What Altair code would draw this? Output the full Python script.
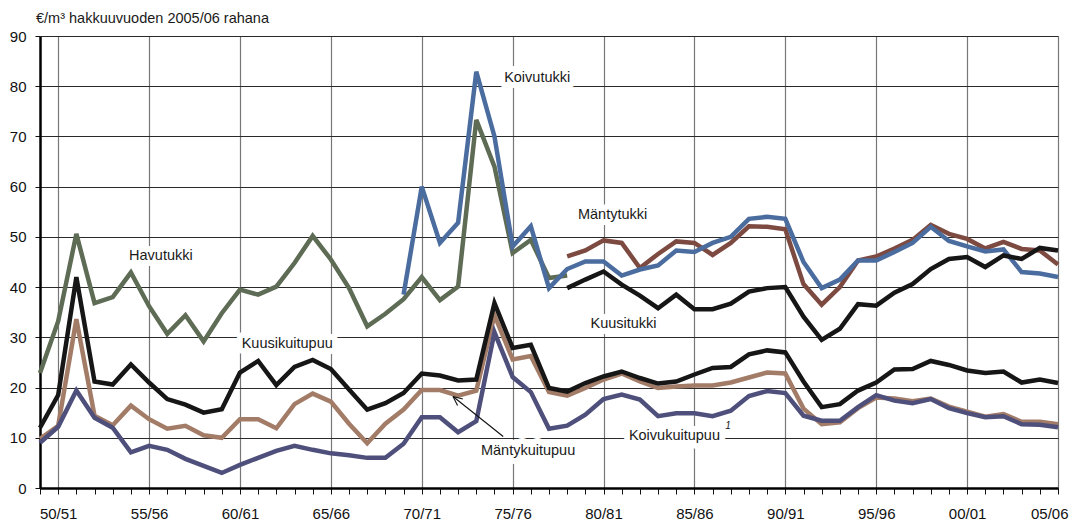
import altair as alt
import pandas as pd

# ---------------- data ----------------
first_year = 1949          # 49/50
last_year = 2005           # 05/06

havutukki_start = 1949
havutukki = [22.9, 33.2, 50.6, 36.8, 38.0, 42.9, 36.2, 30.7, 34.4, 29.2,
             34.8, 39.5, 38.5, 40.1, 44.8, 50.2, 45.5, 39.8, 32.2, 34.7,
             37.6, 42.0, 37.4, 40.1, 73.3, 64.0, 46.8, 49.4, 41.8, 42.3]

koivutukki_start = 1969
koivutukki = [38.5, 60.0, 48.8, 52.8, 82.9, 70.0, 48.1, 52.1, 39.8, 43.6,
              45.1, 45.1, 42.3, 43.5, 44.3, 47.3, 47.0, 48.8, 50.0, 53.6,
              54.0, 53.6, 45.0, 39.8, 41.5, 45.3, 45.3, 47.0, 48.8, 52.0,
              49.2, 48.1, 47.1, 47.5, 43.0, 42.7, 42.0]

mantytukki_start = 1978
mantytukki = [46.1, 47.3, 49.3, 48.8, 43.8, 46.6, 49.1, 48.8, 46.4, 48.8,
              52.1, 52.0, 51.5, 40.6, 36.5, 40.0, 45.3, 46.1, 47.7, 49.4,
              52.4, 50.6, 49.6, 47.7, 49.0, 47.6, 47.3, 44.5]

kuusitukki_start = 1978
kuusitukki = [39.8, 41.5, 43.1, 40.5, 38.3, 35.8, 38.5, 35.6, 35.6, 36.7,
              39.1, 39.8, 40.0, 34.1, 29.5, 31.7, 36.6, 36.3, 38.9, 40.6,
              43.6, 45.6, 46.0, 44.0, 46.3, 45.6, 47.8, 47.3]

kuusikuitupuu_start = 1949
kuusikuitupuu = [12.0, 18.5, 42.0, 21.2, 20.6, 24.6, 21.0, 17.7, 16.6, 15.0,
                 15.7, 23.0, 25.3, 20.5, 24.1, 25.5, 23.7, 19.6, 15.6, 16.9,
                 18.9, 22.8, 22.4, 21.4, 21.6, 36.8, 27.9, 28.5, 19.9, 19.2,
                 20.9, 22.2, 23.2, 21.9, 20.8, 21.2, 22.6, 23.9, 24.1, 26.6,
                 27.4, 27.0, 21.2, 16.1, 16.7, 19.4, 21.0, 23.6, 23.7, 25.3,
                 24.5, 23.4, 22.9, 23.2, 21.0, 21.6, 20.9]

mantykuitupuu_start = 1949
mantykuitupuu = [9.8, 12.4, 33.6, 14.4, 12.5, 16.4, 13.7, 11.8, 12.4, 10.5,
                 10.0, 13.7, 13.7, 11.9, 16.7, 18.8, 17.2, 12.8, 8.9, 12.8,
                 15.6, 19.5, 19.5, 18.4, 19.4, 34.4, 25.6, 26.3, 19.1, 18.4,
                 19.9, 21.6, 22.8, 21.2, 19.9, 20.2, 20.4, 20.4, 21.0, 22.0,
                 23.0, 22.8, 15.8, 12.7, 13.1, 15.9, 18.0, 17.8, 17.3, 17.8,
                 16.2, 15.2, 14.2, 14.7, 13.2, 13.2, 12.7]

koivukuitupuu_start = 1949
koivukuitupuu = [9.0, 12.2, 19.4, 14.0, 12.0, 7.1, 8.4, 7.6, 5.8, 4.4,
                 3.0, 4.6, 6.0, 7.4, 8.4, 7.6, 6.9, 6.5, 6.0, 6.0,
                 8.8, 14.1, 14.1, 11.1, 13.3, 31.0, 22.1, 19.1, 11.8, 12.4,
                 14.6, 17.7, 18.6, 17.6, 14.3, 14.9, 14.9, 14.3, 15.4, 18.3,
                 19.3, 18.9, 14.4, 13.4, 13.4, 16.1, 18.5, 17.4, 16.9, 17.7,
                 15.9, 14.9, 14.1, 14.3, 12.7, 12.6, 12.1]

# drawing order (first = bottom)
series = [
    ("Havutukki", havutukki_start, havutukki, "#5e6b55"),
    ("Mäntytukki", mantytukki_start, mantytukki, "#7d4a41"),
    ("Koivutukki", koivutukki_start, koivutukki, "#4a6c9e"),
    ("Kuusitukki", kuusitukki_start, kuusitukki, "#161616"),
    ("Mäntykuitupuu", mantykuitupuu_start, mantykuitupuu, "#a37c68"),
    ("Koivukuitupuu", koivukuitupuu_start, koivukuitupuu, "#4f4f7c"),
    ("Kuusikuitupuu", kuusikuitupuu_start, kuusikuitupuu, "#161616"),
]

# annotation labels (data coordinates)
label_text = ["Havutukki", "Kuusikuitupuu", "Koivutukki", "Mäntytukki",
              "Kuusitukki", "Mäntykuitupuu", "Koivukuitupuu"]
label_x = [1955.65, 1962.6, 1976.35, 1980.5, 1981.1, 1975.85, 1983.9]
label_y = [46.1, 28.6, 81.7, 54.4, 32.7, 7.3, 10.4]

sup_text = ["1"]
sup_x = [1986.85]
sup_y = [12.3]

arrow_x = [1974.48, 1971.72, 1971.72]
arrow_y = [10.25, 18.21, 18.21]
arrow_x2 = [1971.72, 1971.97, 1972.26]
arrow_y2 = [18.21, 16.42, 17.73]

title_text = "€/m³ hakkuuvuoden 2005/06 rahana"
y_ticks = list(range(0, 91, 10))
x_ticks = list(range(first_year, last_year + 1))

FONT = "Liberation Sans"

# ---------------- build tables ----------------
rows = []
for name, start, vals, _ in series:
    for k, v in enumerate(vals):
        rows.append({"series": name, "year": start + k, "value": v})
df = pd.DataFrame(rows)

labels_df = pd.DataFrame({"text": label_text, "year": label_x, "value": label_y})
sup_df = pd.DataFrame({"text": sup_text, "year": sup_x, "value": sup_y})
arrow_df = pd.DataFrame({"year": arrow_x, "value": arrow_y, "x2": arrow_x2, "y2": arrow_y2})

label_expr = ("datum.value % 5 == 0 ? slice('0' + (datum.value % 100), -2) + '/' + "
              "slice('0' + ((datum.value + 1) % 100), -2) : ''")

x_scale = alt.Scale(domain=[first_year, last_year], nice=False, zero=False)
y_scale = alt.Scale(domain=[0, 90], nice=False)

x_axis = alt.Axis(
    values=x_ticks, title=None, labelExpr=label_expr, labelFlush=True,
    labelFlushOffset=10,
    labelOverlap=False, labelFont=FONT, labelFontSize=15, labelColor="#111",
    labelPadding=12, tickSize=6, tickColor="#111", tickWidth=1,
    domainColor="#000", domainWidth=2.5, grid=True, gridColor="#777",
    gridWidth=1.2,
    gridOpacity={"condition": {"test": "datum.value % 5 == 0", "value": 1}, "value": 0},
)
y_axis = alt.Axis(
    values=y_ticks, title=None, labelFont=FONT, labelFontSize=15,
    labelColor="#111", labelPadding=9, tickSize=5, tickColor="#111",
    domainColor="#000", domainWidth=2.5, grid=True, gridColor="#2a2a2a",
    gridWidth=1,
)

X = alt.X("year:Q", scale=x_scale, axis=x_axis)
Y = alt.Y("value:Q", scale=y_scale, axis=y_axis)

base = alt.Chart(df)

# white boxes (halo) behind labels
halo = alt.Chart(labels_df).mark_text(
    font=FONT, fontSize=14.5, fill="white", stroke="white", strokeWidth=12,
    strokeJoin="round", align="center", baseline="middle",
).encode(x=X, y=Y, text="text:N")
halo_sup = alt.Chart(sup_df).mark_text(
    font=FONT, fontSize=10, fill="white", stroke="white", strokeWidth=10,
    align="center", baseline="middle",
).encode(x=X, y=Y, text="text:N")

line_layers = []
for name, start, vals, col in series:
    line_layers.append(
        base.transform_filter(alt.datum.series == name)
        .mark_line(color=col, strokeWidth=4.5, strokeJoin="miter")
        .encode(x=X, y=Y)
    )

arrow = alt.Chart(arrow_df).mark_rule(color="#111", strokeWidth=1.1).encode(
    x=X, y=Y, x2="x2:Q", y2="y2:Q")
texts = alt.Chart(labels_df).mark_text(
    font=FONT, fontSize=14.5, color="#1a1a1a", align="center", baseline="middle",
).encode(x=X, y=Y, text="text:N")
sup = alt.Chart(sup_df).mark_text(
    font=FONT, fontSize=10, fontStyle="italic", color="#1a1a1a",
    align="center", baseline="middle",
).encode(x=X, y=Y, text="text:N")

layers = [halo, halo_sup] + line_layers + [arrow, texts, sup]

chart = alt.layer(*layers).properties(
    width=1018, height=452,
    title=alt.TitleParams(title_text, anchor="start", frame="group", font=FONT,
                          fontSize=14.5, fontWeight="normal", color="#1a1a1a",
                          dx=-4, dy=12, baseline="alphabetic", offset=4),
    autosize=alt.AutoSizeParams(type="none"),
    padding={"left": 32, "top": 28, "right": 12, "bottom": 36},
).configure_view(stroke="#000", strokeWidth=2).configure(background="white")

chart.save("out.html", embed_options={"renderer": "svg", "actions": False})
